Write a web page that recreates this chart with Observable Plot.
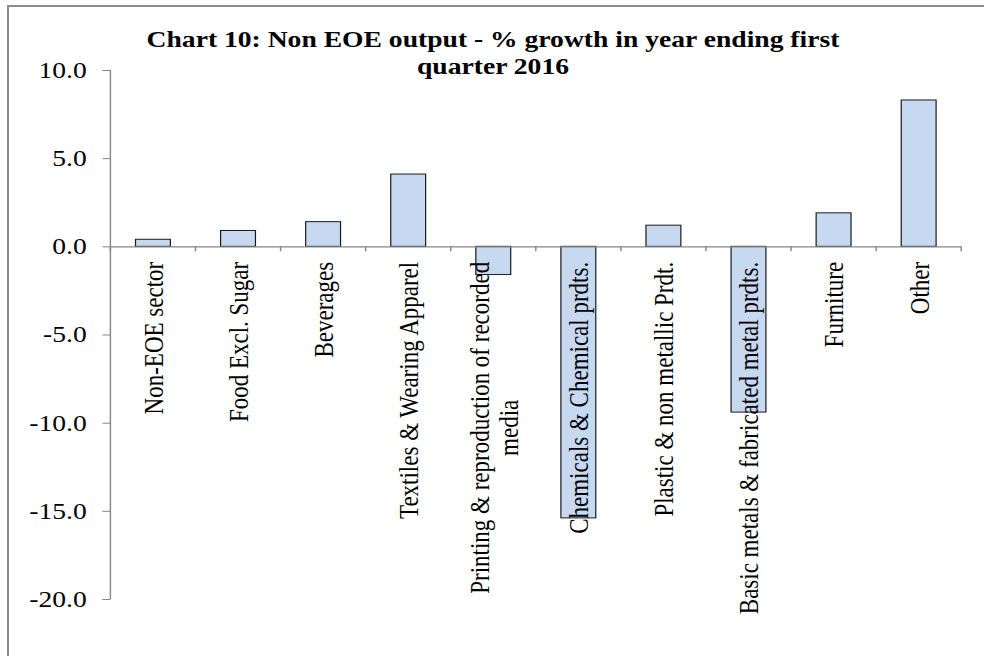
<!DOCTYPE html>
<html>
<head>
<meta charset="utf-8">
<script src="https://cdn.jsdelivr.net/npm/d3@7"></script>
<script src="https://cdn.jsdelivr.net/npm/@observablehq/plot@0.6"></script>
<style>
  html, body { margin: 0; padding: 0; background: #fff; overflow: hidden; }
  #wrap { position: relative; width: 984px; height: 656px; overflow: hidden; }
  #frame { position: absolute; left: 7px; top: 5px; width: 1000px; height: 700px;
           border-left: 2px solid #8a8a8a; border-top: 2px solid #8a8a8a; }
  #chart { position: absolute; left: 0; top: 0; }
  #title { position: absolute; left: 0; top: 26px; width: 986px; text-align: center;
           font: bold 23px/27px "Liberation Serif", "Times New Roman", serif; color: #000;
           transform: scaleX(1.2); transform-origin: 493px 0; }
</style>
</head>
<body>
<div id="wrap">
  <div id="frame"></div>
  <div id="chart"></div>
  <div id="title"></div>
</div>
<script>
const titleLines = ["Chart 10: Non EOE output - % growth in year ending first", "quarter 2016"];
const categories = [
  "Non-EOE sector",
  "Food Excl. Sugar",
  "Beverages",
  "Textiles & Wearing Apparel",
  "Printing & reproduction of recorded media",
  "Chemicals & Chemical prdts.",
  "Plastic & non metallic Prdt.",
  "Basic metals & fabricated metal prdts.",
  "Furniture",
  "Other"
];
const growth = [0.4, 0.9, 1.4, 4.1, -1.6, -15.4, 1.2, -9.4, 1.9, 8.3];
const yTicks = [10, 5, 0, -5, -10, -15, -20];

// wrap long category names onto two lines (as the original does)
function wrap(s) {
  if (s.length <= 39) return s;
  const i = s.lastIndexOf(" ", 36);
  return s.slice(0, i) + "\n" + s.slice(i + 1);
}

document.getElementById("title").innerHTML = titleLines.join("<br>");

const data = categories.map((c, i) => ({ category: c, label: wrap(c), value: growth[i] }));

const W = 820, H = 656, STRETCH = 984 / 820;

const chart = Plot.plot({
  width: W,
  height: H,
  marginLeft: 92,
  marginRight: 19,
  marginTop: 70,
  marginBottom: 57,
  style: { fontFamily: '"Liberation Serif", "Times New Roman", serif', fontSize: "23px", color: "#000", background: "transparent", overflow: "visible" },
  x: { type: "band", domain: categories, paddingInner: 0.59, paddingOuter: 0.295, align: 0.5, round: false, axis: null },
  y: { domain: [-20, 10] },
  marks: [
    Plot.barY(data, { x: "category", y: "value", fill: "#C6D9F1", stroke: "#1a1a1a", strokeWidth: 1 }),
    Plot.ruleY([0], { stroke: "#868686", strokeWidth: 1.2 }),
    Plot.axisY({ ticks: yTicks, tickSize: 6.7, tickPadding: 13.5, tickFormat: d => d.toFixed(1),
                 stroke: "#868686", fill: "#000", fontSize: 23, label: null }),
    Plot.text(data, { x: "category", y: d => 0, text: "label", rotate: -90, textAnchor: "end",
                      lineAnchor: "middle", lineHeight: 1.05, dy: 15, fill: "#000", fontSize: 23 })
  ]
});

chart.setAttribute("width", 984);
chart.setAttribute("height", 656);
chart.setAttribute("preserveAspectRatio", "none");
chart.style.width = "984px";
chart.style.height = "656px";
chart.style.maxWidth = "none";
document.getElementById("chart").appendChild(chart);

// category boundary ticks and y-axis line, from Plot's own scales
const xs = chart.scale("x"), ys = chart.scale("y");
const bw = xs.bandwidth;
const step = xs.step || bw / (1 - 0.59);
const y0 = ys.apply(0);
const centers = categories.map(c => xs.apply(c) + bw / 2);
const bounds = centers.map(c => c - step / 2).concat([centers[centers.length - 1] + step / 2]);
const g = d3.select(chart).append("g").attr("stroke", "#868686").attr("stroke-width", 1.2);
g.selectAll("line.xt").data(bounds).join("line").attr("class", "xt")
  .attr("x1", d => d).attr("x2", d => d).attr("y1", y0).attr("y2", y0 + 5);
g.append("line").attr("x1", bounds[0]).attr("x2", bounds[0])
  .attr("y1", ys.apply(yTicks[0])).attr("y2", ys.apply(yTicks[yTicks.length - 1]));

// centre the second line of wrapped labels on the first line
d3.select(chart).selectAll("text").each(function () {
  const ts = this.querySelectorAll("tspan");
  if (ts.length === 2) {
    const L1 = ts[0].getComputedTextLength(), L2 = ts[1].getComputedTextLength();
    ts[1].setAttribute("x", -L1 / 2 + L2 / 2);
  }
});
</script>
</body>
</html>
